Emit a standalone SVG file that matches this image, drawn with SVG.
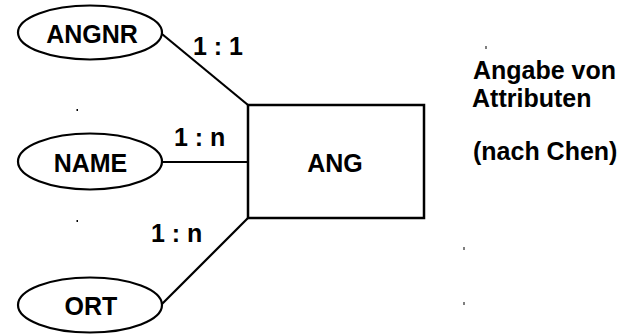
<svg xmlns="http://www.w3.org/2000/svg" width="629" height="335" viewBox="0 0 629 335">
<style>
.shape{fill:#fff;stroke:#000;stroke-width:2.2}
.conn{stroke:#000;stroke-width:2.2;fill:none}
.t{font-family:"Liberation Sans",Arial,Helvetica,sans-serif;font-weight:bold;font-size:25px;fill:#000}
.m{text-anchor:middle}
.dot{fill:#000}
</style>
<rect width="629" height="335" fill="#fff"/>
<g id="connectors">
<line class="conn" x1="162" y1="34" x2="248" y2="105"/>
<line class="conn" x1="162" y1="162" x2="248" y2="162"/>
<line class="conn" x1="162" y1="304" x2="248" y2="218"/>
<text class="t" x="193" y="55">1 : 1</text>
<text class="t" x="174" y="146">1 : n</text>
<text class="t" x="151" y="242">1 : n</text>
</g>
<g id="ANGNR">
<ellipse class="shape" cx="90" cy="32.5" rx="72" ry="27"/>
<text class="t m" x="92" y="43">ANGNR</text>
</g>
<g id="NAME">
<ellipse class="shape" cx="90" cy="161.5" rx="72" ry="28"/>
<text class="t m" x="90.5" y="172">NAME</text>
</g>
<g id="ORT">
<ellipse class="shape" cx="90" cy="305" rx="72" ry="27.5"/>
<text class="t m" x="91" y="315">ORT</text>
</g>
<g id="ANG">
<rect x="248" y="105" width="176" height="113" fill="#fff" stroke="#000" stroke-width="2.5"/>
<text class="t m" x="335" y="172">ANG</text>
</g>
<g id="note">
<text class="t" x="473" y="79">Angabe von</text>
<text class="t" x="472" y="107">Attributen</text>
<text class="t" x="473" y="160">(nach Chen)</text>
</g>
<g id="marks">
<rect class="dot" x="76.5" y="109" width="1.5" height="2"/>
<rect class="dot" x="76.5" y="220" width="1.5" height="2"/>
<rect class="dot" x="485.5" y="46" width="1" height="3"/>
<rect class="dot" x="463.5" y="247" width="1" height="3"/>
<rect class="dot" x="463.5" y="302" width="1" height="3"/>
</g>
</svg>
